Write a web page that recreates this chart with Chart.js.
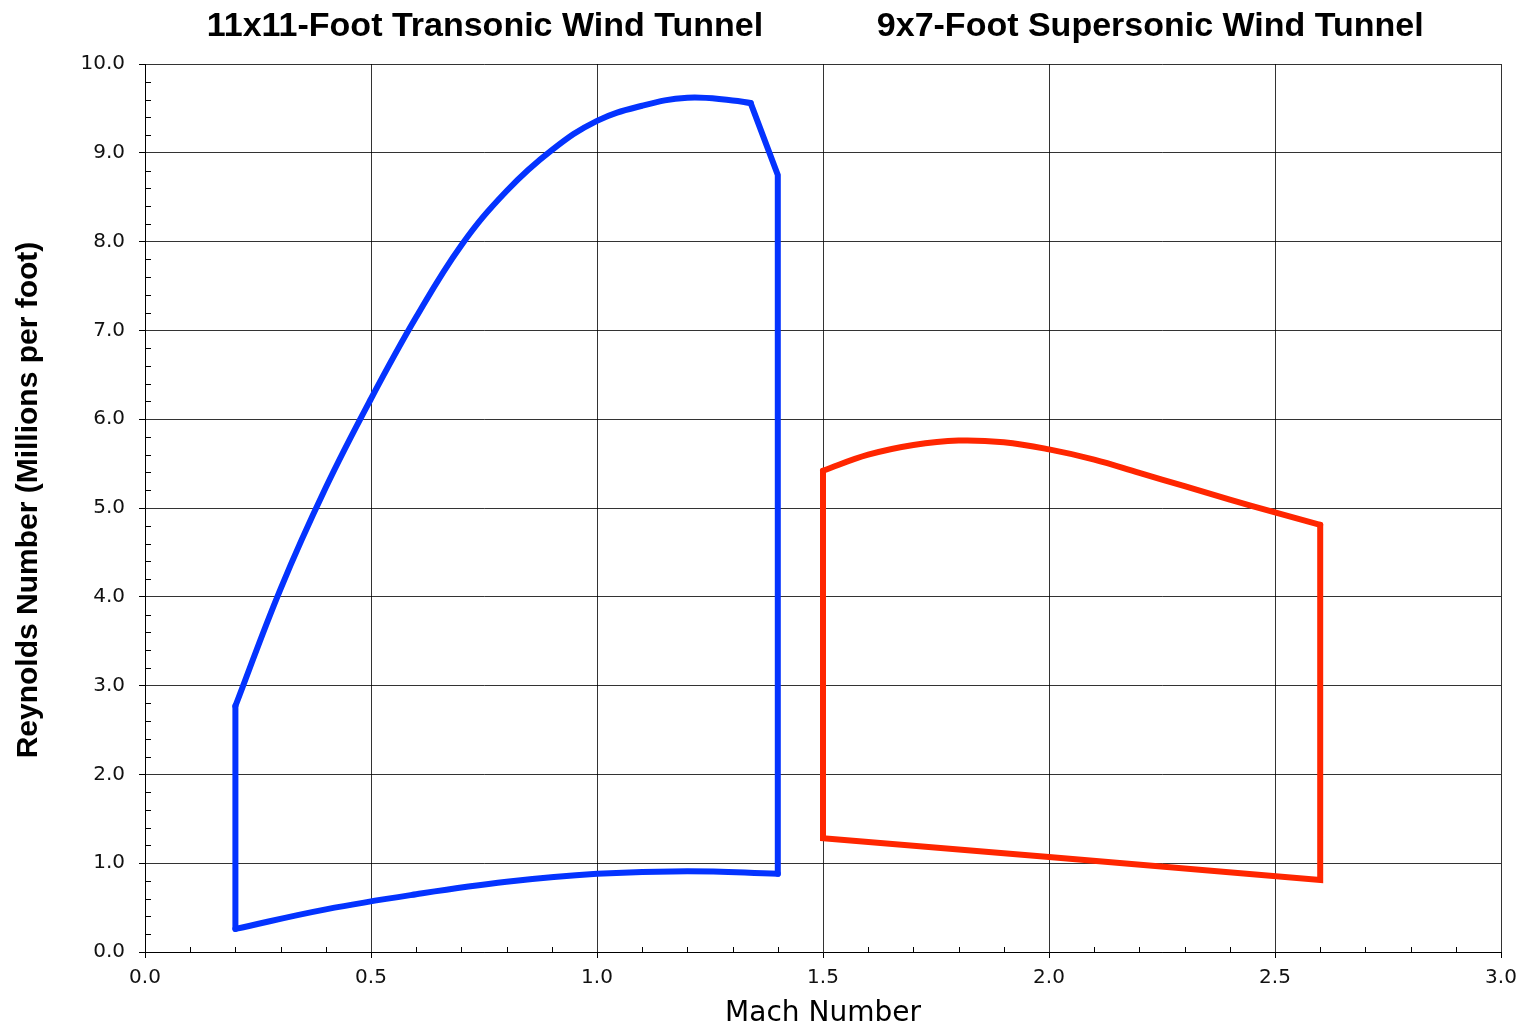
<!DOCTYPE html>
<html>
<head>
<meta charset="utf-8">
<title>Wind Tunnel Reynolds Number Envelopes</title>
<script src="https://cdn.jsdelivr.net/npm/chart.js@4.4.1/dist/chart.umd.min.js"></script>
<style>
  html, body { margin: 0; padding: 0; background: #ffffff; }
  #wrap { width: 1527px; height: 1031px; position: relative; }
</style>
</head>
<body>
<div id="wrap"><canvas id="chart"></canvas></div>
<script>
// Operating envelopes: Reynolds number (millions per foot) versus Mach number.

// 11x11-Foot Transonic Wind Tunnel
const transonicUpperMach = [0.2, 0.3, 0.4, 0.5, 0.6, 0.7, 0.8, 0.9, 1.0, 1.1, 1.2, 1.3, 1.34];
const transonicUpperRe   = [2.77, 4.09, 5.23, 6.23, 7.15, 7.96, 8.57, 9.03, 9.36, 9.53, 9.62, 9.59, 9.56];
const transonicLowerMach = [0.2, 0.4, 0.6, 0.8, 1.0, 1.2, 1.4];
const transonicLowerRe   = [0.26, 0.48, 0.65, 0.79, 0.88, 0.91, 0.88];
const transonicLeftMach  = [0.2, 0.2];
const transonicLeftRe    = [0.26, 2.77];
const transonicRightMach = [1.34, 1.4, 1.4];
const transonicRightRe   = [9.56, 8.75, 0.88];

// 9x7-Foot Supersonic Wind Tunnel
const supersonicUpperMach = [1.5, 1.6, 1.7, 1.8, 1.9, 2.0, 2.1, 2.2, 2.3, 2.4, 2.5, 2.6];
const supersonicUpperRe   = [5.42, 5.60, 5.71, 5.76, 5.74, 5.66, 5.545, 5.395, 5.245, 5.095, 4.95, 4.81];
const supersonicFrameMach = [1.5, 1.5, 2.0, 2.6, 2.6];
const supersonicFrameRe   = [5.42, 1.28, 1.07, 0.81, 4.81];

// Axes
const machTicks = [0, 0.5, 1.0, 1.5, 2.0, 2.5, 3.0];
const reTicks = [0, 1, 2, 3, 4, 5, 6, 7, 8, 9, 10];
const tunnelTitles = ['11x11-Foot Transonic Wind Tunnel', '9x7-Foot Supersonic Wind Tunnel'];
const tunnelTitleMach = [0.752, 2.224];
const xAxisTitle = 'Mach Number';
const yAxisTitle = 'Reynolds Number (Millions per foot)';

const BLUE = '#0433ff';
const RED = '#ff2600';

function pts(xs, ys) {
  return xs.map((x, i) => ({ x: x, y: ys[i] }));
}

function edge(xs, ys, color, curved) {
  return {
    data: pts(xs, ys),
    showLine: true,
    borderColor: color,
    borderWidth: 6,
    borderCapStyle: 'round',
    borderJoinStyle: 'miter',
    pointRadius: 0,
    pointHoverRadius: 0,
    fill: false,
    tension: curved ? 0.4 : 0
  };
}

// Minor ticks (inside the frame) plus the rotated y title and tunnel names.
const decorations = {
  id: 'decorations',
  afterDraw(chart) {
    const { ctx, chartArea, scales } = chart;
    const xs = scales.x, ys = scales.y;
    ctx.save();
    ctx.strokeStyle = '#000';
    ctx.lineWidth = 1;
    ctx.beginPath();
    for (let i = 1; i < 30; i++) {
      if (i % 5 === 0) continue;
      const px = Math.round(xs.getPixelForValue(i / 10)) + 0.5;
      ctx.moveTo(px, chartArea.bottom);
      ctx.lineTo(px, chartArea.bottom - 5);
    }
    for (let i = 1; i < 50; i++) {
      if (i % 5 === 0) continue;
      const py = Math.round(ys.getPixelForValue(i / 5)) + 0.5;
      ctx.moveTo(chartArea.left, py);
      ctx.lineTo(chartArea.left + 6, py);
    }
    ctx.stroke();

    ctx.fillStyle = '#000';
    ctx.font = 'bold 30px "Liberation Sans", Arial, sans-serif';
    ctx.textAlign = 'center';
    ctx.textBaseline = 'middle';
    ctx.translate(29, 500);
    ctx.rotate(-Math.PI / 2);
    ctx.fillText(yAxisTitle, 0, 0);
    ctx.restore();

    ctx.save();
    ctx.fillStyle = '#000';
    ctx.font = 'bold 34px "Liberation Sans", Arial, sans-serif';
    ctx.textAlign = 'center';
    ctx.textBaseline = 'alphabetic';
    tunnelTitles.forEach((t, i) => {
      ctx.fillText(t, xs.getPixelForValue(tunnelTitleMach[i]), 36);
    });
    ctx.restore();
  }
};

const tickFont = { family: '"DejaVu Sans", Verdana, sans-serif', size: 20 };

new Chart(document.getElementById('chart'), {
  type: 'scatter',
  data: {
    datasets: [
      edge(transonicLeftMach, transonicLeftRe, BLUE, false),
      edge(transonicUpperMach, transonicUpperRe, BLUE, true),
      edge(transonicRightMach, transonicRightRe, BLUE, false),
      edge(transonicLowerMach, transonicLowerRe, BLUE, true),
      edge(supersonicUpperMach, supersonicUpperRe, RED, true),
      edge(supersonicFrameMach, supersonicFrameRe, RED, false)
    ]
  },
  options: {
    responsive: true,
    maintainAspectRatio: false,
    animation: false,
    events: [],
    layout: { padding: { top: 64, right: 26, left: 0, bottom: 0 } },
    plugins: {
      legend: { display: false },
      tooltip: { enabled: false },
      title: { display: false }
    },
    scales: {
      x: {
        type: 'linear',
        min: 0,
        max: 3,
        afterBuildTicks(scale) {
          scale.ticks = machTicks.map(v => ({ value: v }));
        },
        afterFit(scale) { scale.height = 79; },
        ticks: {
          color: '#111',
          font: tickFont,
          padding: 8,
          maxRotation: 0,
          callback: v => Number(v).toFixed(1)
        },
        grid: {
          color: 'rgba(0,0,0,0.8)',
          lineWidth: 1,
          tickLength: 6,
          tickColor: '#000'
        },
        border: { color: '#000', width: 1 },
        title: {
          display: true,
          text: xAxisTitle,
          color: '#000',
          font: { family: '"DejaVu Sans", Verdana, sans-serif', size: 28, lineHeight: 1.2 },
          padding: { top: 0, bottom: 0 }
        }
      },
      y: {
        type: 'linear',
        min: 0,
        max: 10,
        afterBuildTicks(scale) {
          scale.ticks = reTicks.map(v => ({ value: v }));
        },
        afterFit(scale) { scale.width = 145; },
        ticks: {
          color: '#111',
          font: tickFont,
          padding: 14,
          callback: v => Number(v).toFixed(1)
        },
        grid: {
          color: 'rgba(0,0,0,0.8)',
          lineWidth: 1,
          tickLength: 6,
          tickColor: '#000'
        },
        border: { color: '#000', width: 1 }
      }
    }
  },
  plugins: [decorations]
});
</script>
</body>
</html>
